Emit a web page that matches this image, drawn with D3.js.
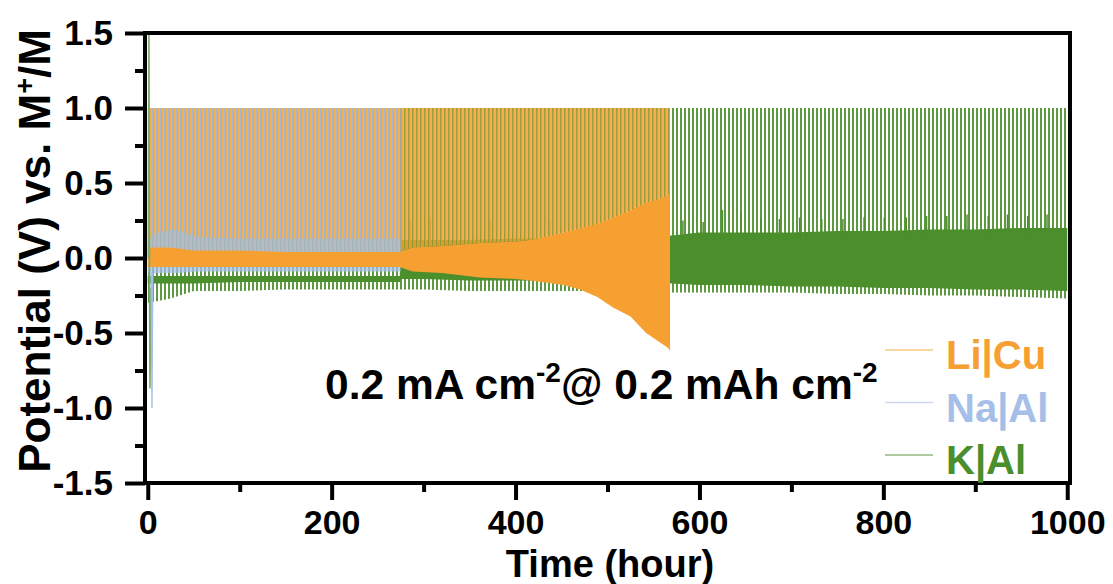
<!DOCTYPE html>
<html>
<head>
<meta charset="utf-8">
<script src="https://cdn.jsdelivr.net/npm/d3@7"></script>
<style>
  body { margin: 0; background: #fff; }
  svg { display: block; font-family: 'Liberation Sans', Arial, sans-serif; font-weight: bold; }
</style>
</head>
<body>
<div id="chart"></div>
<script>
// Li|Cu dense band (plating/stripping overpotential)
const liTime = [0, 25, 50, 100, 150, 200, 250, 274, 288, 320, 361, 400, 416, 452, 470, 489, 506, 525, 542, 554, 566, 568]
const liHi = [0.07, 0.07, 0.05, 0.05, 0.04, 0.04, 0.04, 0.04, 0.07, 0.08, 0.1, 0.11, 0.12, 0.17, 0.2, 0.23, 0.27, 0.32, 0.37, 0.39, 0.42, 0.45]
const liLo = [-0.06, -0.06, -0.06, -0.06, -0.06, -0.06, -0.06, -0.06, -0.09, -0.1, -0.13, -0.14, -0.15, -0.18, -0.21, -0.26, -0.33, -0.39, -0.5, -0.55, -0.6, -0.62]

// Na|Al dense band
const naTime = [0, 5, 10, 30, 55, 100, 150, 200, 250, 275]
const naHi = [0.1, 0.15, 0.17, 0.19, 0.14, 0.13, 0.13, 0.13, 0.13, 0.13]
const naLo = [-0.1, -0.11, -0.1, -0.1, -0.09, -0.09, -0.09, -0.09, -0.09, -0.09]

// K|Al dense band + lower fringe of the cycling lines
const kTime = [0, 25, 50, 100, 150, 200, 250, 274, 276, 300, 350, 400, 450, 500, 550, 570, 600, 650, 700, 750, 800, 850, 900, 950, 1000]
const kHi = [-0.12, -0.12, -0.12, -0.12, -0.12, -0.12, -0.12, -0.12, 0.12, 0.12, 0.12, 0.13, 0.13, 0.14, 0.15, 0.15, 0.17, 0.17, 0.17, 0.18, 0.18, 0.19, 0.19, 0.2, 0.2]
const kLo = [-0.17, -0.17, -0.17, -0.16, -0.16, -0.16, -0.16, -0.16, -0.14, -0.14, -0.15, -0.15, -0.15, -0.16, -0.16, -0.17, -0.18, -0.18, -0.19, -0.19, -0.2, -0.2, -0.21, -0.21, -0.22]
const kFringe = [-0.3, -0.27, -0.22, -0.22, -0.21, -0.21, -0.21, -0.21, -0.21, -0.21, -0.22, -0.22, -0.22, -0.22, -0.23, -0.23, -0.23, -0.23, -0.23, -0.24, -0.24, -0.25, -0.25, -0.26, -0.27]

// small overpotential peaks on top of the K|Al band
const kPeakTime = [285, 307, 372, 437, 582, 604, 625, 645, 667, 687, 709, 733, 756, 779, 801, 825, 847, 869, 891, 914, 935, 957, 978]
const kPeakV = [0.25, 0.27, 0.25, 0.25, 0.25, 0.24, 0.32, 0.3, 0.26, 0.26, 0.27, 0.26, 0.26, 0.27, 0.27, 0.27, 0.28, 0.28, 0.29, 0.28, 0.29, 0.28, 0.29]

// first-cycle transients
const kInitTime = [0.8, 1.3, 1.8, 2.4, 3.2]
const kInitV = [0, 1.5, 0.1, -0.87, -0.2]
const naInitTime = [3.8, 4.6, 5.4]
const naInitV = [-0.1, -1.0, -0.1]

// stripping cut-off voltage reached every cycle
const cutoffV = 1.0

const seriesNames = ['Li|Cu', 'Na|Al', 'K|Al']
const seriesColors = ['#f5a030', '#a6bfe8', '#4b8e2c']
const xTicks = [0, 200, 400, 600, 800, 1000]
const xMinor = [100, 300, 500, 700, 900]
const yTicks = [-1.5, -1.0, -0.5, 0.0, 0.5, 1.0, 1.5]
const yMinor = [-1.25, -0.75, -0.25, 0.25, 0.75, 1.25]

const W = 1113
const H = 584
const margin = { left: 145, right: 43, top: 33, bottom: 101 }

const svg = d3.select('#chart').append('svg').attr('width', W).attr('height', H)

const x = d3.scaleLinear().domain([-3, 1003]).range([margin.left, W - margin.right])
const y = d3.scaleLinear().domain([-1.5, 1.5]).range([H - margin.bottom, margin.top])

const defs = svg.append('defs')
defs.append('clipPath').attr('id', 'plot')
  .append('rect')
  .attr('x', margin.left).attr('y', margin.top)
  .attr('width', W - margin.left - margin.right)
  .attr('height', H - margin.top - margin.bottom)

// vertical stripe patterns stand in for the hundreds of cycles hitting the cut-off
function stripe(id, color, x0, w, op) {
  defs.append('pattern')
    .attr('id', id)
    .attr('patternUnits', 'userSpaceOnUse')
    .attr('width', 4)
    .attr('height', 10)
    .append('rect')
    .attr('x', x0)
    .attr('width', w)
    .attr('height', 10)
    .attr('fill', color)
    .attr('fill-opacity', op)
}
stripe('stK', seriesColors[2], 0, 2, 0.9)
stripe('stLi', seriesColors[0], 0.5, 3.5, 0.85)
stripe('stNa', seriesColors[1], 0, 1.5, 0.85)

const g = svg.append('g').attr('clip-path', 'url(#plot)')

function band(times, lo, hi) {
  return d3.area()
    .x((d, i) => x(times[i]))
    .y0((d, i) => y(lo[i]))
    .y1((d, i) => y(hi[i]))(times)
}
const toCutoff = (times) => times.map(() => cutoffV)

// K lines and band first, the Li cycles sit over them
g.append('path').attr('d', band(kTime, kFringe, toCutoff(kTime))).attr('fill', 'url(#stK)')
g.append('path').attr('d', band(kTime, kLo, kHi)).attr('fill', seriesColors[2])
g.selectAll('.kpeak')
  .data(kPeakV)
  .enter()
  .append('line')
  .attr('class', 'kpeak')
  .attr('x1', (d, i) => x(kPeakTime[i]))
  .attr('x2', (d, i) => x(kPeakTime[i]))
  .attr('y1', y(0.1))
  .attr('y2', (d) => y(d))
  .attr('stroke', seriesColors[2])
  .attr('stroke-width', 1.5)

g.append('path').attr('d', band(liTime, liHi, toCutoff(liTime))).attr('fill', 'url(#stLi)')
g.append('path').attr('d', band(naTime, naHi, toCutoff(naTime))).attr('fill', 'url(#stNa)')

g.append('path').attr('d', band(naTime, naLo, naHi)).attr('fill', seriesColors[1]).attr('fill-opacity', 0.75)
g.append('path').attr('d', band(liTime, liLo, liHi)).attr('fill', seriesColors[0])

const line = (times) => d3.line().x((d, i) => x(times[i])).y((d) => y(d))
g.append('path')
  .attr('d', line(kInitTime)(kInitV))
  .attr('fill', 'none')
  .attr('stroke', '#7fa870')
  .attr('stroke-width', 1.6)
g.append('path')
  .attr('d', line(naInitTime)(naInitV))
  .attr('fill', 'none')
  .attr('stroke', seriesColors[1])
  .attr('stroke-width', 1.4)

// axes
const fmtY = (d) => d3.format('.1f')(d).replace('\u2212', '-')
function styleAxis(sel, size) {
  sel.attr('font-family', null).attr('font-size', null)
  sel.select('.domain').remove()
  sel.selectAll('line').attr('stroke', '#000').attr('stroke-width', 4)
  sel.selectAll('text').attr('fill', '#000').attr('font-size', size)
}

svg.append('g')
  .attr('transform', `translate(0,${H - margin.bottom})`)
  .call(d3.axisBottom(x).tickValues(xMinor).tickSize(9).tickFormat(''))
  .call(styleAxis, 34)
svg.append('g')
  .attr('transform', `translate(0,${H - margin.bottom})`)
  .call(d3.axisBottom(x).tickValues(xTicks).tickSize(17).tickPadding(10).tickFormat(d3.format('d')))
  .call(styleAxis, 34)
svg.append('g')
  .attr('transform', `translate(${margin.left},0)`)
  .call(d3.axisLeft(y).tickValues(yMinor).tickSize(10).tickFormat(''))
  .call(styleAxis, 35)
svg.append('g')
  .attr('transform', `translate(${margin.left},0)`)
  .call(d3.axisLeft(y).tickValues(yTicks).tickSize(20).tickPadding(12).tickFormat(fmtY))
  .call(styleAxis, 35)

svg.append('rect')
  .attr('x', margin.left).attr('y', margin.top)
  .attr('width', W - margin.left - margin.right)
  .attr('height', H - margin.top - margin.bottom)
  .attr('fill', 'none')
  .attr('stroke', '#000')
  .attr('stroke-width', 4)

// titles
svg.append('text')
  .attr('x', 610)
  .attr('y', 577)
  .attr('text-anchor', 'middle')
  .attr('font-size', 38)
  .text('Time (hour)')

const yt = svg.append('text')
  .attr('transform', 'translate(50,251) rotate(-90)')
  .attr('text-anchor', 'middle')
  .attr('font-size', 44)
yt.append('tspan').text('Potential (V) vs. M')
yt.append('tspan').attr('dy', -16).attr('font-size', 27).text('+')
yt.append('tspan').attr('dy', 16).text('/M')

const ann = svg.append('text').attr('x', 325).attr('y', 399).attr('font-size', 42.5)
ann.append('tspan').text('0.2 mA cm')
ann.append('tspan').attr('dy', -17).attr('font-size', 28).text('-2')
ann.append('tspan').attr('dy', 17).text('@ 0.2 mAh cm')
ann.append('tspan').attr('dy', -17).attr('font-size', 28).text('-2')

// legend
const legend = svg.append('g')
seriesNames.forEach((name, i) => {
  const ly = 350 + i * 52.5
  legend.append('line')
    .attr('x1', 885).attr('x2', 933)
    .attr('y1', ly).attr('y2', ly)
    .attr('stroke', seriesColors[i])
    .attr('stroke-opacity', 0.6)
    .attr('stroke-width', 1.5)
  legend.append('text')
    .attr('x', 946)
    .attr('y', ly + 7)
    .attr('font-size', 40)
    .attr('dy', '0.3em')
    .attr('fill', seriesColors[i])
    .text(name)
})
</script>
</body>
</html>
